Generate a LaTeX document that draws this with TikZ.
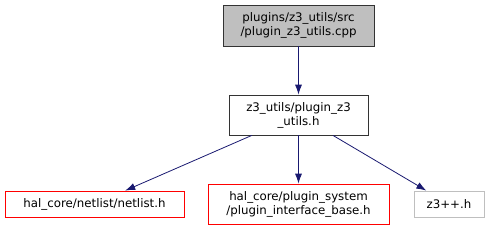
\documentclass[tikz,border=0pt]{standalone}
\usepackage{fontspec}
\setmainfont{DejaVu Sans}
\usetikzlibrary{arrows.meta,positioning}
\definecolor{incnavy}{HTML}{191970}
\definecolor{incgray}{HTML}{BFBFBF}
\definecolor{incred}{HTML}{FF0000}

\begin{document}
\begin{tikzpicture}[x=1pt,y=-1pt,
  every node/.style={font=\fontsize{11.8}{14}\selectfont,inner sep=0pt,align=center,line width=0.8pt},
  srcfile/.style={draw=black!80,fill=incgray,minimum width=151pt,minimum height=41pt},
  hdrfile/.style={draw=black!80,fill=white,minimum width=139pt,minimum height=40pt},
  missfile/.style={draw=incred,fill=white,minimum height=26pt},
  sysfile/.style={draw=incgray,fill=white,minimum width=70pt,minimum height=26pt},
  arr/.style={-{Latex[length=10pt,width=7pt]},draw=incnavy,line width=0.8pt}
]
\useasboundingbox (0,0) rectangle (490,231);
\node[srcfile] (cpp) at (298.5,25.5) {plugins/z3\_utils/src\\/plugin\_z3\_utils.cpp};
\node[hdrfile] (hdr) at (298.5,115) {z3\_utils/plugin\_z3\\\_utils.h};
\node[missfile,minimum width=179pt] (netlist) at (94.5,204) {hal\_core/netlist/netlist.h};
\node[missfile,minimum width=181pt,minimum height=40pt] (iface) at (298.5,204) {hal\_core/plugin\_system\\/plugin\_interface\_base.h};
\node[sysfile] (zpp) at (449,204) {z3++.h};
\draw[arr] (cpp) -- (hdr);
\draw[arr] (hdr) -- (netlist);
\draw[arr] (hdr) -- (iface);
\draw[arr] (hdr) -- (zpp);
\end{tikzpicture}
\end{document}
